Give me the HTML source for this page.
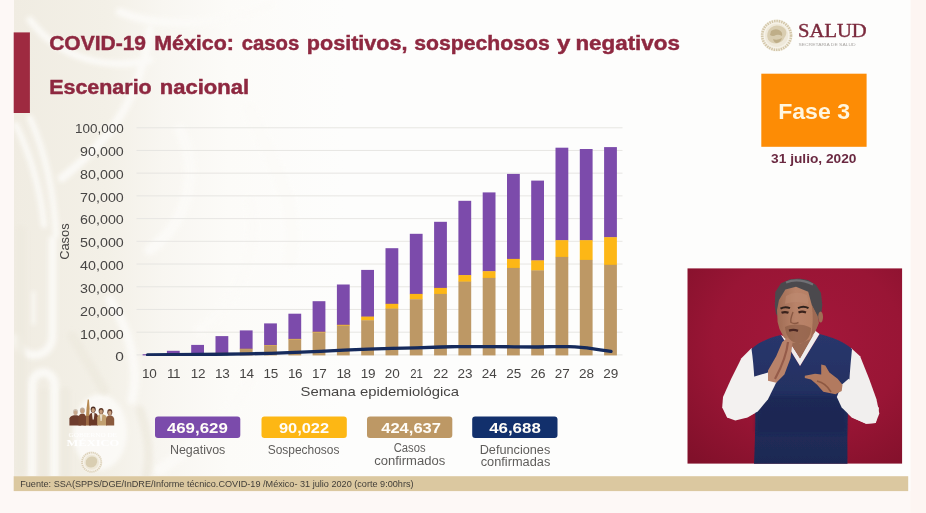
<!DOCTYPE html>
<html lang="es"><head><meta charset="utf-8"><title>COVID-19 México</title>
<style>
html,body{margin:0;padding:0;background:#fdf8f6;}
body{width:926px;height:513px;overflow:hidden;position:relative;font-family:"Liberation Sans",sans-serif;}
svg{position:absolute;left:0;top:0;display:block}
text{font-family:"Liberation Sans",sans-serif;}
.ser{font-family:"Liberation Serif",serif;}
</style></head><body>
<svg width="926" height="513" viewBox="0 0 926 513">
<defs>
<linearGradient id="wm" x1="0" x2="1" y1="0" y2="0">
<stop offset="0" stop-color="#f0ece2"/><stop offset="0.28" stop-color="#f3f0e7"/><stop offset="0.45" stop-color="#f8f6f1"/><stop offset="0.65" stop-color="#fcfbf8"/><stop offset="1" stop-color="#fdfdfc"/>
</linearGradient>
<radialGradient id="redbg" cx="0.56" cy="0.38" r="0.8">
<stop offset="0" stop-color="#a4173b"/><stop offset="0.55" stop-color="#991535"/><stop offset="1" stop-color="#81102a"/>
</radialGradient>
<linearGradient id="vest" x1="0" x2="0" y1="0" y2="1">
<stop offset="0" stop-color="#29376c"/><stop offset="0.5" stop-color="#232f60"/><stop offset="1" stop-color="#1e2852"/>
</linearGradient>
<linearGradient id="skin" x1="0" x2="1" y1="0" y2="0">
<stop offset="0" stop-color="#9f6c54"/><stop offset="0.45" stop-color="#b98369"/><stop offset="1" stop-color="#b57e62"/>
</linearGradient>
<filter id="b1" x="-10%" y="-10%" width="120%" height="120%"><feGaussianBlur stdDeviation="0.75"/></filter>
<filter id="b2" x="-20%" y="-20%" width="140%" height="140%"><feGaussianBlur stdDeviation="2.2"/></filter>
<filter id="b05"><feGaussianBlur stdDeviation="0.45"/></filter>
<clipPath id="photo"><rect x="687.3" y="268.2" width="215" height="195.6"/></clipPath>
<clipPath id="slide"><rect x="14" y="0" width="896.5" height="476"/></clipPath>
</defs>
<!-- page background -->
<rect x="0" y="0" width="926" height="513" fill="#fdf8f6"/>
<rect x="910.5" y="0" width="15.5" height="513" fill="#fdf5f2"/>
<rect x="14" y="0" width="896.5" height="491" fill="#fdfdfc"/>
<!-- watermark -->
<rect x="14" y="0" width="330" height="476" fill="url(#wm)"/>
<g clip-path="url(#slide)"><g fill="none" stroke="#fcfbf8" stroke-linecap="round" filter="url(#b2)" opacity="0.9">
<path d="M16 125 C 28 150, 40 185, 44 225" stroke-width="6"/>
<path d="M30 118 C 44 150, 54 190, 56 235" stroke-width="6"/>
<path d="M62 178 C 110 140, 140 100, 150 30" stroke-width="8"/>
<path d="M30 20 C 60 60, 110 70, 150 60" stroke-width="7"/>
<path d="M120 12 C 170 32, 230 22, 270 5" stroke-width="8"/>
<path d="M150 250 C 190 220, 200 170, 180 130" stroke-width="11"/>
<path d="M200 330 C 240 300, 260 250, 250 200" stroke-width="10"/>
<path d="M52.500 240 L 52.500 335 C 52.500 361, 18 361, 17 338" stroke-width="8"/>
<path d="M33.500 293 L 33.500 323" stroke-width="3.500"/>
<path d="M32 480 L 32 386 C 32 368, 54.500 368, 54.500 386 L 54.500 480" stroke-width="8.500"/>
<path d="M110 300 C 130 330, 140 370, 132 400" stroke-width="9"/>
<path d="M160 470 C 200 440, 230 420, 250 380" stroke-width="11"/>
<path d="M250 110 C 270 160, 300 200, 290 260" stroke-width="14"/>
<ellipse cx="100" cy="432" rx="27" ry="38" fill="#fcfbf8" stroke="none"/>
</g>
<g fill="none" stroke="#eeeadf" stroke-linecap="round" filter="url(#b2)" opacity="0.8">
<path d="M72 336 L 104 390" stroke-width="10"/>
<path d="M20.500 230 L 20.500 470" stroke-width="10"/>
<path d="M65.500 392 L 65.500 476" stroke-width="10"/>
<path d="M43.500 392 L 43.500 476" stroke-width="8"/>
<path d="M140 410 C 150 440, 150 460, 146 476" stroke-width="9"/>
</g></g>
<rect x="13.7" y="32.4" width="16.2" height="80.6" fill="#9e2a40"/>
<text x="49.20" y="49.9" font-size="20.5" font-weight="700" fill="#8e2840" textLength="96.85" lengthAdjust="spacingAndGlyphs" stroke="#8e2840" stroke-width="0.45">COVID-19</text>
<text x="154.20" y="49.9" font-size="20.5" font-weight="700" fill="#8e2840" textLength="79.76" lengthAdjust="spacingAndGlyphs" stroke="#8e2840" stroke-width="0.45">México:</text>
<text x="241.70" y="49.9" font-size="20.5" font-weight="700" fill="#8e2840" textLength="57.61" lengthAdjust="spacingAndGlyphs" stroke="#8e2840" stroke-width="0.45">casos</text>
<text x="306.80" y="49.9" font-size="20.5" font-weight="700" fill="#8e2840" textLength="100.75" lengthAdjust="spacingAndGlyphs" stroke="#8e2840" stroke-width="0.45">positivos,</text>
<text x="414.20" y="49.9" font-size="20.5" font-weight="700" fill="#8e2840" textLength="135.53" lengthAdjust="spacingAndGlyphs" stroke="#8e2840" stroke-width="0.45">sospechosos</text>
<text x="557.10" y="49.9" font-size="20.5" font-weight="700" fill="#8e2840" textLength="13.33" lengthAdjust="spacingAndGlyphs" stroke="#8e2840" stroke-width="0.45">y</text>
<text x="575.40" y="49.9" font-size="20.5" font-weight="700" fill="#8e2840" textLength="104.56" lengthAdjust="spacingAndGlyphs" stroke="#8e2840" stroke-width="0.45">negativos</text>
<text x="49.20" y="93.6" font-size="19.3" font-weight="700" fill="#8e2840" textLength="102.51" lengthAdjust="spacingAndGlyphs" stroke="#8e2840" stroke-width="0.45">Escenario</text>
<text x="159.70" y="93.6" font-size="19.3" font-weight="700" fill="#8e2840" textLength="89.34" lengthAdjust="spacingAndGlyphs" stroke="#8e2840" stroke-width="0.45">nacional</text>
<g stroke="#e4e3e0" stroke-width="0.9">
<line x1="136.5" x2="622.5" y1="127.75" y2="127.75"/>
<line x1="136.5" x2="622.5" y1="150.47" y2="150.47"/>
<line x1="136.5" x2="622.5" y1="173.18" y2="173.18"/>
<line x1="136.5" x2="622.5" y1="195.89" y2="195.89"/>
<line x1="136.5" x2="622.5" y1="218.61" y2="218.61"/>
<line x1="136.5" x2="622.5" y1="241.32" y2="241.32"/>
<line x1="136.5" x2="622.5" y1="264.04" y2="264.04"/>
<line x1="136.5" x2="622.5" y1="286.75" y2="286.75"/>
<line x1="136.5" x2="622.5" y1="309.47" y2="309.47"/>
<line x1="136.5" x2="622.5" y1="332.19" y2="332.19"/>
<line x1="136.5" x2="622.5" y1="354.90" y2="354.90"/>
</g>
<text x="75.00" y="133.2" font-size="13.1" fill="#474544" textLength="48.80" lengthAdjust="spacingAndGlyphs">100,000</text>
<text x="80.10" y="156.02" font-size="13.1" fill="#474544" textLength="43.68" lengthAdjust="spacingAndGlyphs">90,000</text>
<text x="80.10" y="178.84" font-size="13.1" fill="#474544" textLength="43.68" lengthAdjust="spacingAndGlyphs">80,000</text>
<text x="80.10" y="201.66" font-size="13.1" fill="#474544" textLength="43.68" lengthAdjust="spacingAndGlyphs">70,000</text>
<text x="80.10" y="224.48" font-size="13.1" fill="#474544" textLength="43.68" lengthAdjust="spacingAndGlyphs">60,000</text>
<text x="80.10" y="247.3" font-size="13.1" fill="#474544" textLength="43.68" lengthAdjust="spacingAndGlyphs">50,000</text>
<text x="80.10" y="270.12" font-size="13.1" fill="#474544" textLength="43.68" lengthAdjust="spacingAndGlyphs">40,000</text>
<text x="80.10" y="292.94" font-size="13.1" fill="#474544" textLength="43.68" lengthAdjust="spacingAndGlyphs">30,000</text>
<text x="80.10" y="315.76" font-size="13.1" fill="#474544" textLength="43.68" lengthAdjust="spacingAndGlyphs">20,000</text>
<text x="80.10" y="338.58" font-size="13.1" fill="#474544" textLength="43.68" lengthAdjust="spacingAndGlyphs">10,000</text>
<text x="115.20" y="361.4" font-size="13.1" fill="#474544" textLength="8.62" lengthAdjust="spacingAndGlyphs">0</text>
<g transform="translate(68.75,241.6) rotate(-90)"><text x="-18.25" y="0" font-size="13.5" fill="#474544" textLength="36.49" lengthAdjust="spacingAndGlyphs">Casos</text>
</g>
<g filter="url(#b05)">
<rect x="142.6" y="354.2" width="12.8" height="1.2" fill="#7b4bab"/>
<rect x="166.9" y="350.8" width="12.8" height="4.0" fill="#7b4bab"/>
<rect x="166.9" y="354.5" width="12.8" height="0.4" fill="#fdb714"/>
<rect x="166.9" y="354.6" width="12.8" height="0.8" fill="#bd9865"/>
<rect x="191.2" y="344.9" width="12.8" height="9.6" fill="#7b4bab"/>
<rect x="191.2" y="354.2" width="12.8" height="0.5" fill="#fdb714"/>
<rect x="191.2" y="354.4" width="12.8" height="1.0" fill="#bd9865"/>
<rect x="215.5" y="336.1" width="12.8" height="17.1" fill="#7b4bab"/>
<rect x="215.5" y="352.9" width="12.8" height="0.6" fill="#fdb714"/>
<rect x="215.5" y="353.2" width="12.8" height="2.2" fill="#bd9865"/>
<rect x="239.8" y="330.4" width="12.8" height="18.7" fill="#7b4bab"/>
<rect x="239.8" y="348.8" width="12.8" height="0.6" fill="#fdb714"/>
<rect x="239.8" y="349.1" width="12.8" height="6.3" fill="#bd9865"/>
<rect x="264.1" y="323.4" width="12.8" height="21.9" fill="#7b4bab"/>
<rect x="264.1" y="345.0" width="12.8" height="0.7" fill="#fdb714"/>
<rect x="264.1" y="345.4" width="12.8" height="10.0" fill="#bd9865"/>
<rect x="288.4" y="313.7" width="12.8" height="25.5" fill="#7b4bab"/>
<rect x="288.4" y="338.9" width="12.8" height="0.8" fill="#fdb714"/>
<rect x="288.4" y="339.4" width="12.8" height="16.0" fill="#bd9865"/>
<rect x="312.6" y="301.2" width="12.8" height="30.9" fill="#7b4bab"/>
<rect x="312.6" y="331.8" width="12.8" height="0.9" fill="#fdb714"/>
<rect x="312.6" y="332.4" width="12.8" height="23.0" fill="#bd9865"/>
<rect x="336.9" y="284.5" width="12.8" height="40.6" fill="#7b4bab"/>
<rect x="336.9" y="324.8" width="12.8" height="1.1" fill="#fdb714"/>
<rect x="336.9" y="325.6" width="12.8" height="29.8" fill="#bd9865"/>
<rect x="361.2" y="269.9" width="12.8" height="47.0" fill="#7b4bab"/>
<rect x="361.2" y="316.6" width="12.8" height="4.0" fill="#fdb714"/>
<rect x="361.2" y="320.3" width="12.8" height="35.1" fill="#bd9865"/>
<rect x="385.5" y="248.2" width="12.8" height="55.9" fill="#7b4bab"/>
<rect x="385.5" y="303.8" width="12.8" height="5.1" fill="#fdb714"/>
<rect x="385.5" y="308.6" width="12.8" height="46.8" fill="#bd9865"/>
<rect x="409.8" y="233.8" width="12.8" height="60.4" fill="#7b4bab"/>
<rect x="409.8" y="293.9" width="12.8" height="5.7" fill="#fdb714"/>
<rect x="409.8" y="299.3" width="12.8" height="56.1" fill="#bd9865"/>
<rect x="434.1" y="221.8" width="12.8" height="66.4" fill="#7b4bab"/>
<rect x="434.1" y="287.9" width="12.8" height="6.3" fill="#fdb714"/>
<rect x="434.1" y="293.9" width="12.8" height="61.5" fill="#bd9865"/>
<rect x="458.4" y="200.8" width="12.8" height="74.6" fill="#7b4bab"/>
<rect x="458.4" y="275.1" width="12.8" height="6.8" fill="#fdb714"/>
<rect x="458.4" y="281.6" width="12.8" height="73.8" fill="#bd9865"/>
<rect x="482.7" y="192.4" width="12.8" height="79.1" fill="#7b4bab"/>
<rect x="482.7" y="271.2" width="12.8" height="7.0" fill="#fdb714"/>
<rect x="482.7" y="277.9" width="12.8" height="77.5" fill="#bd9865"/>
<rect x="507.0" y="173.9" width="12.8" height="85.3" fill="#7b4bab"/>
<rect x="507.0" y="258.9" width="12.8" height="9.3" fill="#fdb714"/>
<rect x="507.0" y="267.9" width="12.8" height="87.5" fill="#bd9865"/>
<rect x="531.2" y="180.6" width="12.8" height="80.1" fill="#7b4bab"/>
<rect x="531.2" y="260.4" width="12.8" height="10.3" fill="#fdb714"/>
<rect x="531.2" y="270.4" width="12.8" height="85.0" fill="#bd9865"/>
<rect x="555.5" y="147.7" width="12.8" height="92.8" fill="#7b4bab"/>
<rect x="555.5" y="240.2" width="12.8" height="17.0" fill="#fdb714"/>
<rect x="555.5" y="256.9" width="12.8" height="98.5" fill="#bd9865"/>
<rect x="579.8" y="149.0" width="12.8" height="91.5" fill="#7b4bab"/>
<rect x="579.8" y="240.2" width="12.8" height="20.0" fill="#fdb714"/>
<rect x="579.8" y="259.9" width="12.8" height="95.5" fill="#bd9865"/>
<rect x="604.1" y="147.1" width="12.8" height="90.4" fill="#7b4bab"/>
<rect x="604.1" y="237.2" width="12.8" height="27.9" fill="#fdb714"/>
<rect x="604.1" y="264.8" width="12.8" height="90.6" fill="#bd9865"/>
</g>
<path d="M147.5 354.8 L200 354.5 L246 353.9 L270 353.3 L295 352.4 L320 351.3 L344 350.1 L368 349.2 L392 348.4 L416 347.8 L441 347.0 L465 346.3 L490 346.5 L514 346.8 L538 347.0 L562 346.4 L575 346.9 L587 347.9 L600 349.8 L611 351.4" fill="none" stroke="#13295b" stroke-width="3.3" stroke-linecap="round" stroke-linejoin="round" filter="url(#b05)"/>
<text x="149.3" y="378.1" font-size="13.5" fill="#474544" text-anchor="middle" letter-spacing="-0.3">10</text>
<text x="173.6" y="378.1" font-size="13.5" fill="#474544" text-anchor="middle" letter-spacing="-0.3">11</text>
<text x="197.9" y="378.1" font-size="13.5" fill="#474544" text-anchor="middle" letter-spacing="-0.3">12</text>
<text x="222.2" y="378.1" font-size="13.5" fill="#474544" text-anchor="middle" letter-spacing="-0.3">13</text>
<text x="246.5" y="378.1" font-size="13.5" fill="#474544" text-anchor="middle" letter-spacing="-0.3">14</text>
<text x="270.8" y="378.1" font-size="13.5" fill="#474544" text-anchor="middle" letter-spacing="-0.3">15</text>
<text x="295.1" y="378.1" font-size="13.5" fill="#474544" text-anchor="middle" letter-spacing="-0.3">16</text>
<text x="319.3" y="378.1" font-size="13.5" fill="#474544" text-anchor="middle" letter-spacing="-0.3">17</text>
<text x="343.6" y="378.1" font-size="13.5" fill="#474544" text-anchor="middle" letter-spacing="-0.3">18</text>
<text x="367.9" y="378.1" font-size="13.5" fill="#474544" text-anchor="middle" letter-spacing="-0.3">19</text>
<text x="384.71" y="378.1" font-size="13.5" fill="#474544" textLength="15.03" lengthAdjust="spacingAndGlyphs">20</text>
<text x="410.20" y="378.1" font-size="13.5" fill="#474544" textLength="12.63" lengthAdjust="spacingAndGlyphs">21</text>
<text x="433.29" y="378.1" font-size="13.5" fill="#474544" textLength="15.03" lengthAdjust="spacingAndGlyphs">22</text>
<text x="457.58" y="378.1" font-size="13.5" fill="#474544" textLength="15.03" lengthAdjust="spacingAndGlyphs">23</text>
<text x="481.87" y="378.1" font-size="13.5" fill="#474544" textLength="15.03" lengthAdjust="spacingAndGlyphs">24</text>
<text x="506.16" y="378.1" font-size="13.5" fill="#474544" textLength="15.03" lengthAdjust="spacingAndGlyphs">25</text>
<text x="530.45" y="378.1" font-size="13.5" fill="#474544" textLength="15.03" lengthAdjust="spacingAndGlyphs">26</text>
<text x="554.74" y="378.1" font-size="13.5" fill="#474544" textLength="15.03" lengthAdjust="spacingAndGlyphs">27</text>
<text x="579.03" y="378.1" font-size="13.5" fill="#474544" textLength="15.03" lengthAdjust="spacingAndGlyphs">28</text>
<text x="603.32" y="378.1" font-size="13.5" fill="#474544" textLength="15.03" lengthAdjust="spacingAndGlyphs">29</text>
<text x="300.50" y="396.1" font-size="13.5" fill="#474544" textLength="158.51" lengthAdjust="spacingAndGlyphs">Semana epidemiológica</text>
<rect x="155" y="416.6" width="85.3" height="21.3" rx="3" fill="#7b4bab"/>
<text x="166.90" y="433.2" font-size="15.0" font-weight="700" fill="#fffdf8" textLength="60.90" lengthAdjust="spacingAndGlyphs">469,629</text>
<rect x="261.5" y="416.6" width="85.3" height="21.3" rx="3" fill="#fdb714"/>
<text x="278.90" y="433.2" font-size="15.0" font-weight="700" fill="#fffdf8" textLength="50.18" lengthAdjust="spacingAndGlyphs">90,022</text>
<rect x="367" y="416.6" width="85.3" height="21.3" rx="3" fill="#bd9865"/>
<text x="381.20" y="433.2" font-size="15.0" font-weight="700" fill="#fffdf8" textLength="59.80" lengthAdjust="spacingAndGlyphs">424,637</text>
<rect x="472.2" y="416.6" width="85.3" height="21.3" rx="3" fill="#12306c"/>
<text x="489.20" y="433.2" font-size="15.0" font-weight="700" fill="#fffdf8" textLength="51.58" lengthAdjust="spacingAndGlyphs">46,688</text>
<text x="169.90" y="453.9" font-size="12.0" fill="#5f5d5b" textLength="55.42" lengthAdjust="spacingAndGlyphs">Negativos</text>
<text x="267.70" y="453.9" font-size="12.0" fill="#5f5d5b" textLength="71.79" lengthAdjust="spacingAndGlyphs">Sospechosos</text>
<text x="393.70" y="452.3" font-size="12.0" fill="#5f5d5b" textLength="31.89" lengthAdjust="spacingAndGlyphs">Casos</text>
<text x="374.20" y="464.6" font-size="12.0" fill="#5f5d5b" textLength="71.13" lengthAdjust="spacingAndGlyphs">confirmados</text>
<text x="479.70" y="453.8" font-size="12.0" fill="#5f5d5b" textLength="70.59" lengthAdjust="spacingAndGlyphs">Defunciones</text>
<text x="480.70" y="465.6" font-size="12.0" fill="#5f5d5b" textLength="69.62" lengthAdjust="spacingAndGlyphs">confirmadas</text>
<rect x="13.7" y="476.2" width="894.5" height="14.9" fill="#dbc8a0"/>
<text x="20.20" y="486.9" font-size="9.4" fill="#403d38" textLength="393.40" lengthAdjust="spacingAndGlyphs">Fuente: SSA(SPPS/DGE/InDRE/Informe técnico.COVID-19 /México- 31 julio 2020 (corte 9:00hrs)</text>
<g>
<circle cx="776.6" cy="35.4" r="16" fill="#f6f2e8"/>
<circle cx="776.6" cy="35.4" r="14.4" fill="none" stroke="#cfc2a3" stroke-width="2.600" stroke-dasharray="1.500 0.900" opacity="0.9"/>
<circle cx="776.6" cy="35.4" r="11.6" fill="#efe9da"/>
<path d="M767.500 33 q2 -7 9 -7.500 q6 0 9 4 q2 4 -1 8 q-2 5 -8 6 q-6 0 -8.500 -4 q-1.500 -3 -0.500 -6.500z" fill="#d9cdb0"/>
<path d="M771 31 q4 -3 8 -1 q4 2 3 6 q-3 -2 -6 -1 q-3 2 -6 0z M773 39 q4 2 9 -1 q-1 4 -5 5 q-3 0 -4 -4z" fill="#bfae88"/>
</g>
<text class="ser" x="798.10" y="37.4" font-size="19.8" fill="#7b2a3d" textLength="68.57" lengthAdjust="spacingAndGlyphs" stroke="#7b2a3d" stroke-width="0.4">SALUD</text>
<text x="798.40" y="46.4" font-size="3.9" fill="#a9a6a3" textLength="57.30" lengthAdjust="spacingAndGlyphs">SECRETARÍA DE SALUD</text>
<rect x="761.3" y="73.7" width="105.3" height="73.1" fill="#fd8c05"/>
<text x="778.20" y="119.3" font-size="22.8" font-weight="700" fill="#fff6df" textLength="71.86" lengthAdjust="spacingAndGlyphs">Fase 3</text>
<text x="771.10" y="162.7" font-size="13.4" font-weight="700" fill="#6a2941" textLength="85.41" lengthAdjust="spacingAndGlyphs">31 julio, 2020</text>
<g filter="url(#b05)">
<path d="M87.7 399.5 L88.9 399.5 L89.6 408 L89.2 417 L86 417 L86.6 408 Z" fill="#b78a52"/>
<path d="M84.5 416 L90.5 416 L91 425.4 L83.5 425.4 Z" fill="#9c6a44"/>
<path d="M69.4 425.4 L69.4 418.5 Q69.9 416.0 74.0 415.2 L77.0 415.2 Q80.7 416.0 81.2 418.5 L81.2 425.4 Z" fill="#6e3c2e"/>
<ellipse cx="75.5" cy="412.0" rx="2.5" ry="3.1" fill="#cfc2b4"/>
<ellipse cx="75.5" cy="412.7" rx="1.7" ry="2.2" fill="#c9a88c"/>
<path d="M78.5 425.4 L78.5 417.1 Q79.0 414.6 80.9 413.8 L83.9 413.8 Q85.5 414.6 86.0 417.1 L86.0 425.4 Z" fill="#74422f"/>
<ellipse cx="82.4" cy="410.6" rx="2.5" ry="3.1" fill="#bfae9e"/>
<ellipse cx="82.4" cy="411.3" rx="1.7" ry="2.2" fill="#c7a284"/>
<path d="M88.9 425.4 L88.9 416.0 Q89.4 413.5 91.7 412.7 L94.7 412.7 Q97.5 413.5 98.0 416.0 L98.0 425.4 Z" fill="#6a3828"/>
<path d="M91.9 412.9 L94.5 412.9 L93.8 419.5 L92.6 419.5 Z" fill="#efe6da"/>
<ellipse cx="93.2" cy="409.5" rx="2.5" ry="3.1" fill="#4a2a20"/>
<ellipse cx="93.2" cy="410.2" rx="1.7" ry="2.2" fill="#c9a07e"/>
<path d="M97.2 425.4 L97.2 417.5 Q97.7 415.0 99.6 414.2 L102.6 414.2 Q106.5 415.0 107.0 417.5 L107.0 425.4 Z" fill="#c2a070"/>
<path d="M99.8 414.4 L102.4 414.4 L101.7 421.0 L100.5 421.0 Z" fill="#e8dcc8"/>
<ellipse cx="101.1" cy="411.0" rx="2.5" ry="3.1" fill="#5a3424"/>
<ellipse cx="101.1" cy="411.7" rx="1.7" ry="2.2" fill="#c49a78"/>
<path d="M106.0 425.4 L106.0 418.7 Q106.5 416.2 108.3 415.4 L111.3 415.4 Q113.7 416.2 114.2 418.7 L114.2 425.4 Z" fill="#8a5a3e"/>
<ellipse cx="109.8" cy="412.2" rx="2.5" ry="3.1" fill="#6a4230"/>
<ellipse cx="109.8" cy="412.9" rx="1.7" ry="2.2" fill="#c9a283"/>
</g>
<text class="ser" x="68.50" y="436.6" font-size="5.6" fill="#ffffff" textLength="48.50" lengthAdjust="spacingAndGlyphs">GOBIERNO DE</text>
<text class="ser" x="66.50" y="445.8" font-size="9.2" font-weight="700" fill="#ffffff" textLength="52.83" lengthAdjust="spacingAndGlyphs">MÉXICO</text>
<circle cx="91.6" cy="462.2" r="10.800" fill="#f6f2e9"/>
<circle cx="91.6" cy="462.2" r="9.600" fill="none" stroke="#dbd0b8" stroke-width="1.800" stroke-dasharray="1.200 0.800"/>
<circle cx="91.6" cy="462.2" r="7.500" fill="#eee8d8"/>
<path d="M86 460.500 q2 -4 6 -4 q4 0 5 3 q1 3 -1 5.500 q-2 2.500 -5 2.500 q-4 0 -5 -3 q-0.500 -2 0 -4z" fill="#d9ceb2"/>
<g clip-path="url(#photo)">
<rect x="687.3" y="268.2" width="215" height="195.6" fill="url(#redbg)"/>
<g filter="url(#b1)">
<!-- sleeves upper arms -->
<path d="M751.6 348 L741.4 358.2 L731.2 378.7 L723 397.1 L722.2 407.4 L727.1 417.6 L735.3 420.5 L747.5 417.6 L757.8 411.5 L760 380 Z" fill="#f3f1f0"/>
<path d="M851.1 348 L860.1 356.2 L869.1 378.7 L876.5 399.2 L879.3 413.5 L875.7 422.9 L866.2 423.7 L851.9 417.6 L841.7 407.4 L843 380 Z" fill="#f1efee"/>
<!-- vest -->
<path d="M751.5 349 C 760 341, 772 337, 781 335 L 800 366 L 819.5 334 C 832 337, 845 342, 852 349 C 850 370, 847 400, 847.5 464 L 754 464 C 756 420, 756 380, 751.5 349 Z" fill="url(#vest)"/>
<path d="M757 404 L 770 396 L 836 396 L 846 408 L 846 432 L 756 432 Z" fill="#18214a" opacity="0.45" filter="url(#b2)"/>
<!-- collar / neck -->
<path d="M781 335 L 800 366 L 819.5 334 L 815 330.5 L 800 358 L 787 338 Z" fill="#efeded"/>
<path d="M786.5 337 L 800 358.5 L 814 334 C 806 343, 794 343, 786.5 337Z" fill="#9a6a52"/>
<!-- head -->
<path d="M774.8 306 L775.3 292 L781 283.2 L790 279.3 L799 278.6 L808 280 L816 285 L821 293 L822.3 305 L820.8 318 L814 322 L780 318 L776 314 Z" fill="#4b4a4e"/>
<path d="M786 282.5 q12 -5 27 2" stroke="#808084" stroke-width="2.2" fill="none" opacity="0.7"/>
<ellipse cx="820.6" cy="317" rx="2.4" ry="5.6" fill="#a06d55"/>
<path d="M777 310 L779 300 L785.4 289.5 L796 286.8 L808.2 291.8 L811.8 305 L817.5 316 L818.8 323 L815 332 L809.7 339.2 L800.6 343.6 L790 342.4 L783.9 337.4 L779.5 329 L777.6 322 Z" fill="url(#skin)"/>
<path d="M786 296 q10 -6 21 -1 q2 5 1 9 q-12 -4 -23 0 z" fill="#c08d72" opacity="0.55"/>
<path d="M785 327 C 790 323.5, 804 323.5, 811 328 C 811 337, 806 343, 798.5 343.6 C 791 343, 785.5 336, 785 327Z" fill="#865843" opacity="0.6"/>
<path d="M811.8 305 L817.5 316 L818.8 323 L815 332 L811 337 Q 814 320 811.8 305Z" fill="#8a5a46" opacity="0.55"/>
<!-- eyes/brows/mouth -->
<path d="M780.5 308.6 q4.5 -2.6 9.500 -0.400 M798 308.2 q5.500 -2.800 10.500 0" stroke="#2f211d" stroke-width="2" fill="none"/>
<path d="M781.500 312.800 q3.500 -1.500 7 0 M798.500 312.400 q3.500 -1.600 7.500 0" stroke="#3a231c" stroke-width="2.200" fill="none"/>
<path d="M789 330.6 q4.500 -1.600 9 0.200" stroke="#4a2620" stroke-width="2.400" fill="none"/>
<path d="M793 312 q-3 8 -2 10.500 q3.500 2 7.500 0" stroke="#8a5943" stroke-width="1.400" fill="none"/>
<!-- forearms -->
<path d="M727.1 417.6 L723 400 L735 388 L753.7 376.7 L768 372.5 L777 381 L768 399.2 L757.8 411.5 L745 418 Z" fill="#f3f1f0"/>
<path d="M875.7 422.9 L879 408 L868 393 L848.6 378.7 L841.7 384.8 L836.8 397.1 L841.7 407.4 L851.9 417.6 L866 423.7 Z" fill="#f1efee"/>
<!-- left hand (blurred vertical) -->
<path d="M787.2 337.8 L792.6 341.9 L790.5 358.2 L784.4 374.6 L776.2 382.8 L768 380.8 L768 370.5 L776.2 356.2 L782.3 341.9 Z" fill="#b8826a"/>
<path d="M788 342 C 787 352, 782 366, 775 379" stroke="#8a4e40" stroke-width="2.2" fill="none" opacity="0.75"/>
<!-- right hand -->
<path d="M804.8 375.8 L815.1 373.8 L821.2 374.6 L821.2 364.4 L825.3 365.6 L829.4 372.6 L837.6 378.7 L842.5 384.8 L841.7 391 L835.5 394.3 L823.3 391.8 L817.1 384.8 L811 379.5 L804.8 377.9 Z" fill="#b27a5e"/>
<path d="M817 381 q9 2 14 11" stroke="#7e4a38" stroke-width="1.6" fill="none" opacity="0.7"/>
</g>
</g>
</svg>
</body></html>
